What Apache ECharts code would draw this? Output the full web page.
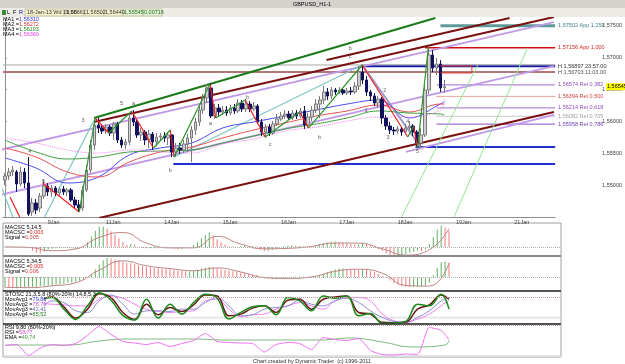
<!DOCTYPE html>
<html><head><meta charset="utf-8">
<script src="https://cdn.jsdelivr.net/npm/echarts@6/dist/echarts.min.js"></script>
<style>html,body{margin:0;padding:0;background:#fff}#c{width:625px;height:364px}</style>
</head><body><div id="c"></div><script>
// ---------------- DATA ----------------
const N = 142;            // bar slots on the time axis (incl. empty future)
const LAST = 113;         // index of last bar
const xLabelIdx = [11,26,41,56,71,86,101,116,131];
const xLabelText = ['9Jan','11Jan','14Jan','15Jan','16Jan','17Jan','18Jan','19Jan','21Jan'];

const opens = [
1.55081,1.55144,1.55207,1.55207,1.55018,1.55207,1.55034,1.54578,1.54720,1.54641,
1.54830,1.54987,1.54893,1.54955,1.54877,1.54940,1.54893,1.54924,1.54767,1.54689,
1.54641,1.54924,1.55238,1.55631,1.55945,1.55898,1.55850,1.55913,1.55819,1.55960,
1.55709,1.55631,1.55678,1.56055,1.55992,1.55788,1.55835,1.55709,1.55803,1.55678,
1.55756,1.55772,1.55741,1.55788,1.55521,1.55584,1.55552,1.55646,1.55741,1.55866,
1.55992,1.56180,1.56369,1.56526,1.56086,1.56212,1.56149,1.56180,1.56133,1.56212,
1.56165,1.56290,1.56196,1.56274,1.56196,1.56243,1.55992,1.55835,1.55913,1.55819,
1.55960,1.56039,1.56086,1.56117,1.56055,1.56133,1.56086,1.56165,1.55945,1.56070,
1.56180,1.56274,1.56337,1.56463,1.56400,1.56494,1.56463,1.56494,1.56447,1.56479,
1.56463,1.56557,1.56777,1.56651,1.56463,1.56400,1.56290,1.56353,1.56055,1.55929,
1.55866,1.55850,1.55882,1.55835,1.55898,1.55929,1.55835,1.55662,1.55788,1.56494,
1.57044,1.56840,1.56903,1.56526];
const closes = [
1.55144,1.55207,1.55238,1.55018,1.55207,1.55034,1.54547,1.54720,1.54610,1.54830,
1.54987,1.54893,1.54955,1.54877,1.54940,1.54893,1.54924,1.54767,1.54689,1.54641,
1.54924,1.55238,1.55631,1.55945,1.55898,1.55850,1.55913,1.55819,1.55960,1.55709,
1.55631,1.55678,1.56055,1.55992,1.55788,1.55835,1.55709,1.55803,1.55678,1.55756,
1.55772,1.55741,1.55788,1.55521,1.55584,1.55552,1.55646,1.55741,1.55866,1.55992,
1.56180,1.56369,1.56526,1.56086,1.56212,1.56149,1.56180,1.56133,1.56212,1.56165,
1.56290,1.56196,1.56274,1.56196,1.56243,1.55992,1.55835,1.55913,1.55819,1.55960,
1.56039,1.56086,1.56117,1.56055,1.56133,1.56086,1.56165,1.55945,1.56070,1.56180,
1.56274,1.56337,1.56463,1.56400,1.56494,1.56463,1.56494,1.56447,1.56479,1.56463,
1.56557,1.56777,1.56651,1.56463,1.56400,1.56290,1.56353,1.56055,1.55929,1.55866,
1.55850,1.55882,1.55835,1.55898,1.55929,1.55835,1.55662,1.55788,1.56494,1.57044,
1.56840,1.56903,1.56526,1.56545];
const lows = [
1.55003,1.55081,1.55144,1.54893,1.54987,1.54955,1.54516,1.54516,1.54547,1.54578,
1.54783,1.54830,1.54814,1.54830,1.54814,1.54846,1.54830,1.54736,1.54641,1.54578,
1.54594,1.54893,1.55191,1.55552,1.55819,1.55803,1.55803,1.55772,1.55709,1.55662,
1.55584,1.55568,1.55631,1.55929,1.55741,1.55693,1.55631,1.55584,1.55552,1.55615,
1.55693,1.55678,1.55631,1.55442,1.55442,1.55489,1.55505,1.55521,1.55364,1.55788,
1.55929,1.56117,1.56290,1.56055,1.56039,1.56086,1.56102,1.56086,1.56102,1.56117,
1.56133,1.56149,1.56149,1.56149,1.56165,1.55960,1.55772,1.55741,1.55772,1.55788,
1.55929,1.56007,1.56039,1.56023,1.56023,1.56039,1.56055,1.55882,1.55898,1.56007,
1.56133,1.56055,1.56274,1.56337,1.56353,1.56416,1.56431,1.56416,1.56416,1.56416,
1.56431,1.56494,1.56589,1.56400,1.56321,1.56243,1.56212,1.55960,1.55866,1.55803,
1.55788,1.55803,1.55772,1.55803,1.55866,1.55772,1.55599,1.55584,1.55756,1.56431,
1.56777,1.56730,1.56463,1.56447];
const highs = [
1.55191,1.55269,1.55301,1.55238,1.55285,1.55269,1.55442,1.54798,1.54783,1.54877,
1.55081,1.55034,1.55003,1.54987,1.54971,1.54987,1.54955,1.54955,1.54814,1.54767,
1.54987,1.55317,1.55709,1.56023,1.56055,1.55960,1.55960,1.55945,1.55992,1.55992,
1.55756,1.55725,1.56117,1.56180,1.56023,1.55898,1.55866,1.55866,1.55835,1.55819,
1.55819,1.55835,1.55835,1.55803,1.55662,1.55662,1.55709,1.55803,1.55929,1.56055,
1.56243,1.56431,1.56589,1.56604,1.56274,1.56274,1.56243,1.56243,1.56259,1.56274,
1.56353,1.56337,1.56353,1.56321,1.56306,1.56274,1.56039,1.55960,1.55960,1.56007,
1.56117,1.56149,1.56180,1.56165,1.56180,1.56180,1.56212,1.56243,1.56133,1.56243,
1.56353,1.56400,1.56557,1.56526,1.56541,1.56526,1.56541,1.56526,1.56526,1.56541,
1.56620,1.56871,1.56887,1.56714,1.56494,1.56447,1.56400,1.56384,1.56102,1.55992,
1.55913,1.55929,1.55913,1.55960,1.56007,1.55960,1.55866,1.55898,1.56573,1.57170,
1.57122,1.56997,1.56965,1.56651];

// moving averages, read every 8 bars (+ last bar)
const ma1 = [1.55427,1.55269,1.55034,1.55128,1.55474,1.55584,1.55662,1.55898,1.55992,1.56086,1.56180,1.56274,1.56337,1.56055,1.56274,1.56310];
const ma2 = [1.55584,1.55442,1.55207,1.55128,1.55364,1.55521,1.55599,1.55741,1.55866,1.55976,1.56086,1.56165,1.56259,1.56149,1.56274,1.56272];
const ma3 = [1.55709,1.55521,1.55411,1.55442,1.55521,1.55536,1.55552,1.55662,1.55772,1.55882,1.55960,1.56055,1.56165,1.56133,1.56117,1.56103];
const ma4 = [1.55741,1.55662,1.55552,1.55505,1.55552,1.55521,1.55505,1.55646,1.55725,1.55850,1.55913,1.56007,1.56070,1.56070,1.56180,1.56360];

// horizontal levels
const levelPrice = [1.57502,1.57156,1.56871,1.56777,1.56887,1.56574,1.56394,1.56214,1.56082,1.55958,1.55599,1.55332];
const levelStart = [112,108,91.6,-0.5,-0.5,111,111,111,111,111,105.6,43.3];
const levelText  = ['1,57502 App 1,250','1,57156 App 1,000','H 1,56897 23:57.00','H 1,56703 11:03.00','',
                    '1,56574 Ret 0,382','1,56394 Ret 0,500','1,56214 Ret 0,618','1,56082 Ret 0,705','1,55958 Ret 0,786','',''];

// trend lines [bar1, price1, bar2, price2]
const greenChannel = [[22.9,1.56055,110.7,1.57625]];
const maroonLines  = [[22.9,1.55992,141.2,1.57641],[82.7,1.56965,129.8,1.57625],[24.2,1.54484,141.2,1.56149]];
const purpleLines  = [[-1.3,1.55552,141.2,1.57562],[-1.3,1.54846,141.2,1.56871],[103.1,1.55521,141.2,1.56102]];
const tealLines    = [[-1.3,1.55034,2.0,1.54500],[10.2,1.54500,23.2,1.56055],[43.5,1.55442,91.9,1.56887]];
const slateLines   = [[91.9,1.56887,106.9,1.55599]];
const limeLines    = [[102,1.54500,121.6,1.56887],[115.5,1.54500,134.4,1.57154]];
const zigRed = [[1.3,1.54814,3.8,1.54500],[9.7,1.55034,19.1,1.54578],[23.2,1.56055,26.7,1.55819],[32.6,1.56165,38.2,1.55584],
  [42.5,1.55866,43.5,1.55442],[52.7,1.56589,54.2,1.56055],[61.8,1.56337,66.9,1.55756],[75.8,1.56149,78.1,1.55898],
  [91.9,1.56887,103.6,1.55756],[105.1,1.55929,106.1,1.55584]];
const zigGreen = [[19.1,1.54578,23.2,1.56055],[26.7,1.55819,32.6,1.56165],[38.2,1.55584,42.5,1.55866],[43.5,1.55442,52.7,1.56589],
  [54.2,1.56055,61.8,1.56337],[66.9,1.55756,75.8,1.56149],[78.1,1.55898,91.9,1.56887],[103.6,1.55756,105.1,1.55929],[106.1,1.55584,108.9,1.57170]];
const redBox = [[112,1.56871,120.1,1.56871],[120.1,1.56871,120.1,1.56762],[120.1,1.56762,112,1.56762]];

// wave labels
const waveText  = ['4','5','3','5','a','b','a','b','c','b','b','c','1','2','3','4','5'];
const waveBar   = [6.4,9.9,20.1,30.0,33.1,42.5,52.9,62.4,68.2,80.9,88.8,88.8,92.9,97.7,98.5,103.6,106.1];
const wavePrice = [1.55521,1.55065,1.56023,1.56290,1.56290,1.55238,1.55976,1.56384,1.55646,1.55756,1.57154,1.57013,1.56165,1.56494,1.55741,1.56007,1.55521];

// MACD 5,14,5 (in 1e-4)
const macd1Hist = [1,1,0,-1,0,-1,-3, -8,-12,-13,-10,-6, -4,-3,-3,-2,-2,-3,-4,-4, 2,10,22,34,42,42,38,
  32,26,18,10,4,6,5, 0,-2,-3,-3,-3,-1,0,1,0, -4,-5,-4,-2,0,4,10, 18,25,30,24,16,10,5, 2,1,0,2,3,2,2,1,
  -5,-9,-8,-6,-3,0, 2,3,3,2,2,1,-2,0,3,6, 8,10,11,11,10,9,8,6,5,5, 8,7,3,-1,-5,-8,
  -13,-17,-19,-19,-17,-15,-12,-10, -8,-9,-5,6, 20,36,44,40,34];
const macd1Signal = [0,-1,-8,-4,20,30,8,-2,-2,22,6,-4,-3,1,8,8,-4,-17,-6,38]; // every 6 bars + last
// MACD 5,34,5 (in 1e-4)
const macd2Hist = [-35,-36,-37,-37,-36,-35,-34, -33,-32,-30,-29,-28,-27,-26,-25, -22,-20,-18,-16,-13,-9,-4,
  8,24,40,54,62, 60,57,53,48,45,44,42,38,35, 33,31,29,28,27,26,25, 22,20,19,18,18,20,23, 27,30,32,30,27,24,22,
  20,18,16,14,12,10,8,6, 0,-5,-7,-8,-7,-5,-3,-1, 0,1,2,1,0,0,2,6, 10,15,20,24,27,27,26,25,
  24,23,25,24,20,15,10,4, -4,-12,-20,-26,-30,-32,-33,-33, -32,-31,-28,-18, 5,30,48,50,46];
const macd2Signal = [-34,-35,-29,-19,22,52,36,27,20,29,16,-2,-5,0,18,25,12,-28,-30,45];
// Stochastic, every 3 bars (+ last)
const stoK  = [60,40,30,75,80,45,14,55,95,72,26,12,75,18,60,30,65,90,78,15,35,52,55,28,80,70,40,85,78,85,25,32,2,3,8,60,55,90,45];
const stoD  = [62,45,33,70,82,52,18,45,92,80,35,14,60,28,50,38,58,88,85,25,30,48,55,35,72,75,45,75,82,85,35,30,5,4,6,45,58,88,75];
const stoM1 = [55,50,45,50,70,65,40,35,70,88,60,30,40,40,38,45,45,65,80,55,25,28,45,50,55,72,60,55,70,78,65,40,20,8,5,20,40,70,80];
const stoM2 = [65,65,60,62,60,58,55,55,75,85,78,60,45,38,35,38,40,70,75,45,22,28,30,45,55,65,55,45,70,80,80,70,30,10,5,15,30,55,72];
// RSI every 3 bars (+ last), EMA every 8 bars (+ last)
const rsi = [40,42,20,35,42,40,44,60,78,62,48,45,42,46,38,44,50,64,48,46,45,44,27,42,46,44,32,56,52,50,54,30,22,21,23,22,76,70,52];
const rsiEma = [41,41,41,49,53,53,53,51,51,51,51,55,47,37,41,50];

// ---------------- CHART ----------------
const FONT = 'Liberation Sans, Arial, sans-serif';
const FS = '5.5px ';
const chart = echarts.init(document.getElementById('c'), null, {renderer:'canvas'});
const cats = Array.from({length:N}, (_, i) => 'b' + i);
const isLab = (i) => xLabelIdx.indexOf(i) >= 0;
const spread = (vals, step) => vals.map((v, k) => [k === vals.length - 1 ? LAST : k * step, v]);
const candleData = opens.map((o, i) => [o, closes[i], lows[i], highs[i]]);

const series = [];
series.push({type:'candlestick', xAxisIndex:0, yAxisIndex:0, data:candleData, barWidth:3, z:5,
  itemStyle:{color:'#cfcfcf', color0:'#12125e', borderColor:'#7a7a7a', borderColor0:'#12125e', borderWidth:1}});

function seg(s, color, width, type, z){
  series.push({type:'line', xAxisIndex:1, yAxisIndex:0, data:[[s[0],s[1]],[s[2],s[3]]], symbol:'none', silent:true,
    lineStyle:{color, width, type: type || 'solid'}, z: z || 3, clip:true, animation:false});
}
const levelStyle = [
  {c:'#5f9a9a', w:3}, {c:'#c81010', w:1.5}, {c:'#1a1aa8', w:2.5}, {c:'#b07878', w:2}, {c:'#a8a8a8', w:1},
  {c:'#b088d8', w:1.2}, {c:'#d84848', w:1, t:'dotted'}, {c:'#b088d8', w:1.2}, {c:'#c8c8c8', w:1}, {c:'#a070d0', w:1.2},
  {c:'#2030c8', w:2}, {c:'#2030d0', w:2}];
const levelLabelColor = ['#3d7f7f','#d02020','#303030','#505050','','#9050c0','#d04040','#9050c0','#a0a0a0','#7040b0','',''];
levelPrice.forEach((p, k) => {
  const st = levelStyle[k];
  series.push({type:'line', xAxisIndex:1, yAxisIndex:0, data:[[levelStart[k], p],[141.5, p]], symbol:'none', silent:true,
    lineStyle:{color:st.c, width:st.w, type:st.t || 'solid'}, z:2, animation:false,
    endLabel:{show: !!levelText[k], formatter: levelText[k], color: levelLabelColor[k], fontSize:5.5, fontFamily:FONT, distance:3}});
});
purpleLines.forEach(s => seg(s, '#c09ae8', 1.8));
maroonLines.forEach(s => seg(s, '#7a1010', 2));
greenChannel.forEach(s => seg(s, '#1a7a1a', 2));
tealLines.forEach(s => seg(s, '#7cc8c0', 1.2));
slateLines.forEach(s => seg(s, '#9a98c8', 2));
limeLines.forEach(s => seg(s, '#90e890', 1));
zigRed.forEach(s => seg(s, '#f02020', 1.2, 'solid', 6));
zigGreen.forEach(s => seg(s, '#2a962a', 1.2, 'solid', 6));
redBox.forEach(s => seg(s, '#e03030', 1, 'solid', 6));

const maColors = ['#4a4af0','#e85050','#40a040','#f080f0'];
[ma1, ma2, ma3, ma4].forEach((m, k) => series.push({type:'line', xAxisIndex:1, yAxisIndex:0, data:spread(m, 8), symbol:'none',
  smooth:0.4, silent:true, z:4, lineStyle:{color:maColors[k], width:1, type: k === 3 ? 'dotted' : 'solid'}}));

series.push({type:'scatter', xAxisIndex:1, yAxisIndex:0, symbolSize:1, z:7, silent:true,
  itemStyle:{color:'rgba(0,0,0,0)'},
  data: waveText.map((t, k) => [waveBar[k], wavePrice[k], t]),
  label:{show:true, position:'inside', formatter: p => p.data[2], fontSize:5.5, fontFamily:FONT, color:'#303030'}});

// MACD panels
function histColor(arr){ return arr.map((v, i) => ({value:[i, v], itemStyle:{color: (i > 0 && v < arr[i-1]) ? '#f07a7a' : '#62b062'}})); }
series.push({type:'bar', xAxisIndex:2, yAxisIndex:1, barWidth:1, data:histColor(macd1Hist), silent:true,
  markLine:{silent:true, symbol:'none', label:{show:false}, lineStyle:{color:'#b0b0b0', type:'dotted', width:1}, data:[{yAxis:0}]}});
series.push({type:'line', xAxisIndex:2, yAxisIndex:1, data:spread(macd1Signal, 6), symbol:'none', smooth:0.5, silent:true,
  lineStyle:{color:'#c08484', width:1}});
series.push({type:'bar', xAxisIndex:3, yAxisIndex:2, barWidth:1, data:histColor(macd2Hist), silent:true,
  markLine:{silent:true, symbol:'none', label:{show:false}, lineStyle:{color:'#b0b0b0', type:'dotted', width:1}, data:[{yAxis:0}]}});
series.push({type:'line', xAxisIndex:3, yAxisIndex:2, data:spread(macd2Signal, 6), symbol:'none', smooth:0.5, silent:true,
  lineStyle:{color:'#c08484', width:1}});
// Stochastic
series.push({type:'line', xAxisIndex:4, yAxisIndex:3, data:spread(stoM2, 3), symbol:'none', smooth:0.4, silent:true,
  lineStyle:{color:'#f080f0', width:1},
  markLine:{silent:true, symbol:'none', label:{show:false}, lineStyle:{color:'#c0a0a0', type:'dotted', width:1}, data:[{yAxis:80}]},
  markArea:{silent:true, itemStyle:{color:'#e4e4e4'}, data:[[{yAxis:17},{yAxis:22}]]}});
series.push({type:'line', xAxisIndex:4, yAxisIndex:3, data:spread(stoM1, 3), symbol:'none', smooth:0.4, silent:true, lineStyle:{color:'#8c8cd0', width:1}});
series.push({type:'line', xAxisIndex:4, yAxisIndex:3, data:spread(stoD, 3), symbol:'none', smooth:0.4, silent:true, lineStyle:{color:'#6a1818', width:1.5}});
series.push({type:'line', xAxisIndex:4, yAxisIndex:3, data:spread(stoK, 3), symbol:'none', smooth:0.4, silent:true, lineStyle:{color:'#1a8a1a', width:1.5}});
// RSI
series.push({type:'line', xAxisIndex:5, yAxisIndex:4, data:spread(rsiEma, 8), symbol:'none', smooth:0.5, silent:true,
  lineStyle:{color:'#80b880', width:1},
  markLine:{silent:true, symbol:'none', label:{show:false}, lineStyle:{color:'#c0a0a0', type:'dotted', width:1}, data:[{yAxis:80}]},
  markArea:{silent:true, itemStyle:{color:'#dcdcdc'}, data:[[{yAxis:17},{yAxis:20.5}]]}});
series.push({type:'line', xAxisIndex:5, yAxisIndex:4, data:spread(rsi, 3), symbol:'none', smooth:0.2, silent:true, lineStyle:{color:'#f070f0', width:1}});

const panelGrid = (top, height) => ({left:3, top, width:558, height, show:true, borderColor:'#a0a0a0', borderWidth:1, backgroundColor:'#fff'});
const hiddenX = (g) => ({type:'value', gridIndex:g, min:-0.5, max:141.5, show:false});
const priceFmt = (v) => (v < 1.5475 || v > 1.5755) ? '' : v.toFixed(5).replace('.', ',');

chart.setOption({
  animation:false,
  backgroundColor:'#ffffff',
  grid:[{left:3, top:18, width:558, height:199}, panelGrid(223,33), panelGrid(256,35), panelGrid(291,33), panelGrid(324,33)],
  xAxis:[
    {type:'category', gridIndex:0, data:cats, boundaryGap:true,
      axisLine:{lineStyle:{color:'#8a8a8a'}},
      axisTick:{interval:(i) => isLab(i), length:3, lineStyle:{color:'#606060'}},
      axisLabel:{interval:(i) => isLab(i), formatter:(v, i) => { const k = xLabelIdx.indexOf(i); return k >= 0 ? xLabelText[k] : ''; },
        fontSize:5.5, fontFamily:FONT, color:'#404040', align:'left', margin:2},
      splitLine:{show:false}},
    hiddenX(0), hiddenX(1), hiddenX(2), hiddenX(3), hiddenX(4)],
  yAxis:[
    {type:'value', gridIndex:0, min:1.545, max:1.57625, interval:0.005, position:'right', offset:44,
      axisLine:{show:true, lineStyle:{color:'#909090'}}, axisTick:{show:true, length:2, lineStyle:{color:'#909090'}},
      axisLabel:{formatter:priceFmt, fontSize:5.5, fontFamily:FONT, color:'#404040', margin:3, showMinLabel:false, showMaxLabel:false},
      splitLine:{show:false}},
    {type:'value', gridIndex:1, min:-19, max:50, show:false},
    {type:'value', gridIndex:2, min:-46, max:68, show:false},
    {type:'value', gridIndex:3, min:0, max:100, show:false},
    {type:'value', gridIndex:4, min:17, max:83, show:false}],
  series
});

// ---------------- TEXT / FRAME ----------------
const t = (x, y, text, fill, extra) => Object.assign({type:'text', z:100, style:Object.assign({x, y, text, fill: fill || '#000',
  font:FS + FONT, verticalAlign:'middle'}, extra || {})});
const rich = (x, y, a, b, col) => ({type:'text', z:100, style:{x, y, verticalAlign:'middle', font:FS + FONT,
  text:'{a|' + a + '}{b|' + b + '}', rich:{a:{fill:'#000', font:FS + FONT}, b:{fill:col, font:FS + FONT}}}});

const yCur = chart.convertToPixel({yAxisIndex:0}, 1.56545);
const g = [
  {type:'rect', z:90, shape:{x:0, y:0, width:625, height:8}, style:{fill:'#d6d3ce'}},
  t(312, 4, 'GBPUSD_H1-1', '#000', {align:'center'}),
  {type:'rect', z:90, shape:{x:0, y:8, width:625, height:9}, style:{fill:'#ecebe6'}},
  {type:'rect', z:91, shape:{x:2, y:10, width:4, height:5}, style:{fill:'#3a8a3a'}},
  t(7, 12.5, 'L', '#000'), t(13, 12.5, 'F', '#000'), t(19, 12.5, 'R', '#1010a0'),
  {type:'rect', z:91, shape:{x:25, y:9, width:39, height:7}, style:{fill:'#f6f3d0', stroke:'#c8c4a8'}},
  t(27, 12.5, '18-Jan-13 Wd 19:00', '#303030'),
  {type:'rect', z:91, shape:{x:65, y:9, width:19, height:7}, style:{fill:'#f6f3d0', stroke:'#c8c4a8'}},
  t(66, 12.5, '1,56661', '#303030'),
  {type:'rect', z:91, shape:{x:85, y:9, width:19, height:7}, style:{fill:'#f6f3d0', stroke:'#c8c4a8'}},
  t(86, 12.5, '1,56502', '#303030'),
  {type:'rect', z:91, shape:{x:104, y:9, width:19, height:7}, style:{fill:'#f6f3d0', stroke:'#c8c4a8'}},
  t(105, 12.5, '1,56440', '#303030'),
  {type:'rect', z:91, shape:{x:123, y:9, width:20, height:7}, style:{fill:'#e4f2d8', stroke:'#c8c4a8'}},
  t(124, 12.5, '1,56545', '#207020'),
  {type:'rect', z:91, shape:{x:143, y:9, width:19, height:7}, style:{fill:'#e4f2d8', stroke:'#c8c4a8'}},
  t(144, 12.5, '0,00716', '#207020'),
  rich(3, 19.5, 'MA1 =', '1,56310', '#3030e0'),
  rich(3, 24.5, 'MA2 =', '1,56272', '#e03030'),
  rich(3, 29.5, 'MA3 =', '1,56103', '#209020'),
  rich(3, 34.5, 'MA4 =', '1,56360', '#e040e0'),
  t(5, 227, 'MACSC 5,14,5', '#000'),
  rich(5, 232, 'MACSC =', '0,003', '#e02020'),
  rich(5, 237, 'Signal =', '0,005', '#c04040'),
  t(5, 261, 'MACSC 5,34,5', '#000'),
  rich(5, 266, 'MACSC =', '0,005', '#e02020'),
  rich(5, 271, 'Signal =', '0,006', '#c04040'),
  {type:'rect', z:99, shape:{x:4, y:292, width:40, height:24}, style:{fill:'#ffffff'}},
  t(5, 294.5, 'STOSC 21,3,5,8 (80%-20%) 14,8,5,3', '#000'),
  rich(5, 299.5, 'MovAvg1 =', '79,86', '#3030d0'),
  rich(5, 304.5, 'MovAvg2 =', '78,70', '#c050c0'),
  rich(5, 309.2, 'MovAvg3 =', '42,41', '#6060a0'),
  rich(5, 314, 'MovAvg4 =', '65,52', '#208020'),
  t(5, 327, 'RSI 9,80 (80%-20%)', '#000'),
  rich(5, 332.3, 'RSI =', '53,77', '#e040e0'),
  rich(5, 337.3, 'EMA =', '49,74', '#40a040'),
  {type:'line', z:95, shape:{x1:3, y1:256, x2:561, y2:256}, style:{stroke:'#8a8a8a', lineWidth:2}},
  {type:'line', z:95, shape:{x1:3, y1:291, x2:561, y2:291}, style:{stroke:'#303030', lineWidth:1.5}},
  {type:'line', z:95, shape:{x1:3, y1:324, x2:561, y2:324}, style:{stroke:'#303030', lineWidth:1.5}},
  t(312, 361, 'Chart created by Dynamic Trader  (c) 1996-2011', '#303030', {align:'center'}),
  {type:'rect', z:96, shape:{x:606, y:yCur - 3.5, width:19, height:7}, style:{fill:'#ffff00'}},
  t(607, yCur, '1,56545', '#000', {z:97})
];
chart.setOption({graphic: g});
</script></body></html>
